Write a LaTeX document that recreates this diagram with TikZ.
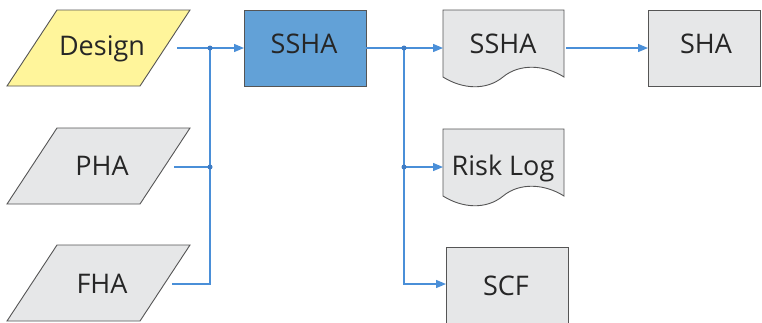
\documentclass[tikz,border=0pt]{standalone}
\usepackage{fontspec}
\setmainfont{Open Sans}
\usetikzlibrary{arrows.meta}
\definecolor{edgegray}{HTML}{555555}
\definecolor{shapegray}{HTML}{E6E7E8}
\definecolor{designyellow}{HTML}{FFF59B}
\definecolor{sshablue}{HTML}{62A1D7}
\definecolor{flowblue}{HTML}{4A8FD8}
\definecolor{dotblue}{HTML}{3F7CC4}
\tikzset{
  outline/.style={draw=edgegray, line width=0.9pt},
  label/.style={font=\fontsize{27}{27}\selectfont, text=black!85, anchor=base, inner sep=0pt},
  flow/.style={draw=flowblue, line width=1.3pt},
  flowarrow/.style={flow, -{Triangle[length=10pt,width=8pt]}},
  junction/.style={circle, fill=dotblue, inner sep=0pt, minimum size=5pt},
}
\newcommand{\parashape}[2]{% top y, fill colour
  \filldraw[outline, fill=#2] (57,#1) -- (190,#1) -- (140,#1+76) -- (7,#1+76) -- cycle;}
\newcommand{\docshape}[1]{% top y of a document sheet
  \filldraw[outline, fill=shapegray] (443,#1) -- (564,#1) -- (564,#1+67)
    .. controls (545,#1+55) and (520,#1+53) .. (503,#1+67)
    .. controls (486,#1+81) and (462,#1+79) .. (443,#1+67) -- cycle;}
\begin{document}
\begin{tikzpicture}[x=1pt,y=-1pt]
\useasboundingbox (0,0) rectangle (762,322);
\clip (0,0) rectangle (762,322);
\fill[white] (0,0) rectangle (762,322);

% input sheets
\parashape{10}{designyellow}
\parashape{128}{shapegray}
\parashape{245}{shapegray}
\node[label] (design) at (102,55) {Design};
\node[label] (pha) at (102,175.5) {PHA};
\node[label] (fha) at (102,293) {FHA};

% analysis and outputs
\filldraw[outline, fill=sshablue] (244,10) rectangle (366,86);
\node[label] (ssha) at (304,53) {SSHA};
\docshape{10}
\node[label] (sshadoc) at (503,53) {SSHA};
\docshape{129}
\node[label] (risklog) at (503,175.5) {Risk Log};
\filldraw[outline, fill=shapegray] (648,10) rectangle (760.5,86);
\node[label] (sha) at (706,53) {SHA};
\filldraw[outline, fill=shapegray] (446,247) rectangle (568,330);
\node[label] (scf) at (506,295) {SCF};

% connector end points
\coordinate (designout) at (177,48);
\coordinate (phaout) at (174,167);
\coordinate (fhaout) at (172,284);
\coordinate (sshain) at (244,48);
\coordinate (sshaout) at (366,48);
\coordinate (sshadocin) at (443,48);
\coordinate (sshadocout) at (566,48);
\coordinate (shain) at (648,48);
\coordinate (risklogin) at (443,167);
\coordinate (scfin) at (446,284);
\coordinate (inbus) at (210,48);
\coordinate (outbus) at (404,48);

% inputs into SSHA
\draw[flowarrow] (designout) -- (sshain);
\draw[flow] (phaout) -- (phaout -| inbus);
\draw[flow] (fhaout) -| (inbus);
\node[junction] (j1) at (inbus) {};
\node[junction] (j2) at (phaout -| inbus) {};

% SSHA outputs
\draw[flowarrow] (sshaout) -- (sshadocin);
\draw[flowarrow] (outbus) |- (scfin);
\draw[flowarrow] (risklogin -| outbus) -- (risklogin);
\node[junction] (j3) at (outbus) {};
\node[junction] (j4) at (risklogin -| outbus) {};
\draw[flowarrow] (sshadocout) -- (shain);
\end{tikzpicture}
\end{document}
